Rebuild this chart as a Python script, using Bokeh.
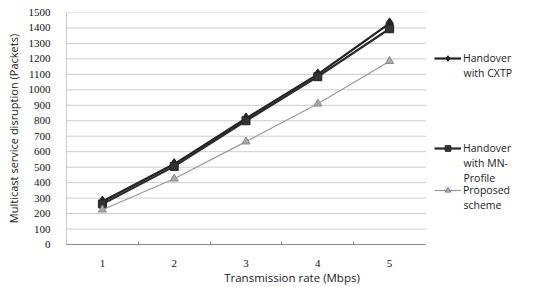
from bokeh.plotting import figure
from bokeh.models import Legend, LegendItem, FixedTicker, Range1d, Label
from bokeh.embed import file_html
from bokeh.resources import INLINE

rates = [1, 2, 3, 4, 5]
rate_labels = ["1", "2", "3", "4", "5"]
cxtp = [278, 520, 815, 1100, 1430]
mn_profile = [262, 505, 800, 1085, 1395]
proposed = [225, 425, 665, 910, 1185]
y_ticks = list(range(0, 1600, 100))
legend_lines = [["Handover", "with CXTP"], ["Handover", "with MN-", "Profile"], ["Proposed", "scheme"]]

LB, RB, TB, BB = 66, 2, 12, 35
FW, FH = 451, 232
CHART_W = 359                      # width of the plotting area proper
PX_PER_UNIT = CHART_W / 5.0
x_end = 0.5 + FW / PX_PER_UNIT

p = figure(frame_width=FW, frame_height=FH, output_backend="svg", toolbar_location=None,
           x_range=Range1d(0.5, x_end), y_range=Range1d(0, 1500),
           min_border_left=LB, min_border_right=RB, min_border_top=TB, min_border_bottom=BB)
p.outline_line_color = None
p.background_fill_color = "white"

p.xgrid.grid_line_color = None
p.ygrid.grid_line_color = None
# horizontal gridlines limited to the plotting area
p.segment(x0=[0.5] * len(y_ticks), x1=[5.5] * len(y_ticks), y0=y_ticks, y1=y_ticks,
          line_color="#9a9a9a", line_dash="1 1", line_width=1)

p.yaxis.ticker = FixedTicker(ticks=y_ticks)
p.xaxis.ticker = FixedTicker(ticks=rates, minor_ticks=[1.5, 2.5, 3.5, 4.5])
p.xaxis.bounds = (0.5, 5.5)
p.xaxis.major_label_overrides = {r: l for r, l in zip(rates, rate_labels)}
p.yaxis.axis_line_color = "#9a9a9a"
p.yaxis.axis_line_dash = "1 1"
p.xaxis.axis_line_color = "#8a8a8a"
p.yaxis.major_tick_line_color = None
p.yaxis.minor_tick_line_color = None
p.xaxis.major_tick_line_color = None
p.xaxis.minor_tick_line_color = "#8a8a8a"
p.xaxis.minor_tick_in = 3
p.xaxis.minor_tick_out = 0
p.yaxis.major_label_text_font = "Liberation Serif"
p.xaxis.major_label_text_font = "Liberation Serif"
p.yaxis.major_label_text_font_size = "11px"
p.xaxis.major_label_text_font_size = "11px"
p.yaxis.major_label_text_color = "#111111"
p.xaxis.major_label_text_color = "#111111"
p.yaxis.major_label_standoff = 10
p.xaxis.major_label_standoff = 9
p.yaxis.axis_label = "Multicast service disruption (Packets)"
p.xaxis.axis_label = "Transmission rate (Mbps)"
p.yaxis.axis_label_text_font = "Open Sans"
p.xaxis.axis_label_text_font = "Open Sans"
p.yaxis.axis_label_text_font_style = "normal"
p.xaxis.axis_label_text_font_style = "normal"
p.yaxis.axis_label_text_font_size = "11px"
p.xaxis.axis_label_text_font_size = "11.5px"
p.yaxis.axis_label_standoff = 5
p.xaxis.axis_label_standoff = 0
p.yaxis.axis_label_text_color = "#222222"
p.xaxis.axis_label_text_color = "#222222"

l1 = p.line(rates, cxtp, line_color="#222222", line_width=2.2)
m1 = p.scatter(rates, cxtp, marker="diamond", size=11, fill_color="#222222", line_color="#222222")
l2 = p.line(rates, mn_profile, line_color="#2a2a2a", line_width=2.2)
m2 = p.scatter(rates, mn_profile, marker="square", size=8, fill_color="#333333", line_color="#222222")
l3 = p.line(rates, proposed, line_color="#9a9a9a", line_width=1.2)
m3 = p.scatter(rates, proposed, marker="triangle", size=8, fill_color="#aaaaaa", line_color="#888888")

# first-line centres, measured in pixels down from the frame top
first_y = [43, 133, 175]
line_gap = 15
LEG_X = 368
rends = [[l1, m1], [l2, m2], [l3, m3]]
for lines, fy, r in zip(legend_lines, first_y, rends):
    lg = Legend(items=[LegendItem(label=lines[0], renderers=r)],
                location=(LEG_X, FH - fy - 10))
    lg.border_line_color = None
    lg.background_fill_alpha = 0
    lg.label_text_font = "Open Sans"
    lg.label_text_font_size = "10.5px"
    lg.label_text_color = "#222222"
    lg.glyph_width = 27
    lg.glyph_height = 14
    lg.label_height = 14
    lg.padding = 0
    lg.margin = 0
    lg.spacing = 0
    lg.label_standoff = 2
    p.add_layout(lg)
    for k, txt in enumerate(lines[1:], start=1):
        p.add_layout(Label(x=LEG_X + 29, y=FH - fy - k * line_gap - 2, x_units="screen", y_units="screen",
                           text=txt, text_font="Open Sans", text_font_size="10.5px", text_color="#222222",
                           text_baseline="middle"))

open("out.html", "w").write(file_html(p, INLINE))
